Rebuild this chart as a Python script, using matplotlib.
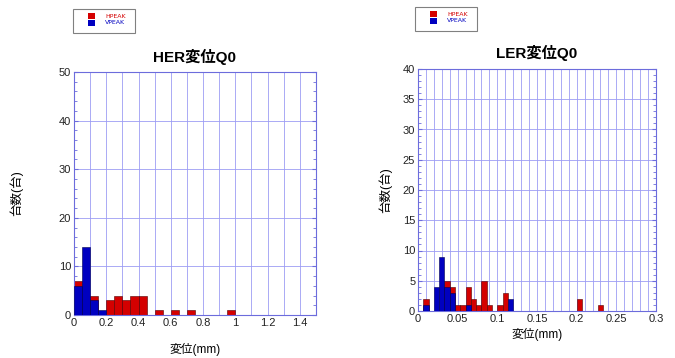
import numpy as np
import matplotlib.pyplot as plt
from matplotlib.patches import Rectangle
from matplotlib.ticker import MultipleLocator

plt.rcParams['font.family'] = ['Liberation Sans', 'Noto Sans CJK JP', 'DejaVu Sans']

# HER: 30 bins of 0.05 mm over 0-1.5
her_bin = 0.05
her_hpeak = [7, 0, 4, 0, 3, 4, 3, 4, 4, 0, 1, 0, 1, 0, 1, 0, 0, 0, 0, 1,
             0, 0, 0, 0, 0, 0, 0, 0, 0, 0]
her_vpeak = [6, 14, 3, 1, 0, 0, 0, 0, 0, 0, 0, 0, 0, 0, 0, 0, 0, 0, 0, 0,
             0, 0, 0, 0, 0, 0, 0, 0, 0, 0]

# LER: 45 bins over 0-0.3 mm
ler_bin = 0.3 / 45
ler_hpeak = [0, 2, 0, 0, 0, 5, 4, 1, 1, 4, 2, 1, 5, 1, 0, 1, 3, 0, 0, 0,
             0, 0, 0, 0, 0, 0, 0, 0, 0, 0, 2, 0, 0, 0, 1, 0, 0, 0, 0, 0,
             0, 0, 0, 0, 0]
ler_vpeak = [0, 1, 0, 4, 9, 4, 3, 0, 0, 1, 0, 0, 0, 0, 0, 0, 0, 2, 0, 0,
             0, 0, 0, 0, 0, 0, 0, 0, 0, 0, 0, 0, 0, 0, 0, 0, 0, 0, 0, 0,
             0, 0, 0, 0, 0]

labels = ['HPEAK', 'VPEAK']

RED = '#d40000'
BLUE = '#0000c0'
GRID = '#9c9cf4'
FRAME = '#6c6cdc'

W, H = 675, 358
fig = plt.figure(figsize=(W / 100, H / 100), dpi=100)


def draw_hist(ax, width, hpeak, vpeak, xmax, ymax, xmaj, xgrid, ymaj, ymin):
    left = np.arange(len(hpeak)) * width
    ax.bar(left, hpeak, width=width, align='edge', color=RED,
           edgecolor='#500000', linewidth=0.4, zorder=2)
    ax.bar(left, vpeak, width=width, align='edge', color=BLUE,
           edgecolor='#000050', linewidth=0.4, zorder=3)
    ax.set_xlim(0, xmax)
    ax.set_ylim(0, ymax)
    ax.xaxis.set_major_locator(MultipleLocator(xmaj))
    ax.xaxis.set_minor_locator(MultipleLocator(xgrid))
    ax.yaxis.set_major_locator(MultipleLocator(ymaj))
    ax.yaxis.set_minor_locator(MultipleLocator(ymin))
    ax.xaxis.grid(True, which='both', color=GRID, lw=0.6)
    ax.yaxis.grid(True, which='major', color=GRID, lw=0.6)
    ax.set_axisbelow(True)
    ax.tick_params(which='both', direction='in', color=FRAME,
                   right=True, top=False, labelsize=8, pad=2,
                   labelcolor='#222222')
    ax.tick_params(which='major', length=3)
    ax.tick_params(which='minor', length=2)
    ax.tick_params(axis='x', which='both', length=0)
    ax.xaxis.set_major_formatter(plt.FuncFormatter(lambda v, p: f'{v:g}'))
    for s in ax.spines.values():
        s.set_color(FRAME)
        s.set_linewidth(0.8)


def add_legend(x0, y0):
    # small framed key, positions in figure pixels from top-left
    fig.patches.append(Rectangle((x0 / W, 1 - (y0 + 24) / H), 62 / W, 24 / H,
                                 transform=fig.transFigure, facecolor='white',
                                 edgecolor='#808080', lw=0.8))
    for i, (lab, col) in enumerate(zip(labels, [RED, BLUE])):
        ty = y0 + 7 + i * 7
        fig.patches.append(Rectangle(((x0 + 15) / W, 1 - (ty + 3) / H),
                                     7 / W, 6 / H, transform=fig.transFigure,
                                     facecolor=col, edgecolor='none'))
        fig.text((x0 + 32) / W, 1 - ty / H, lab, color=col, fontsize=4.5,
                 va='center', ha='left', family='DejaVu Sans')


# left: HER
ax1 = fig.add_axes([74 / W, 1 - 315 / H, 242 / W, 243 / H])
draw_hist(ax1, her_bin, her_hpeak, her_vpeak, 1.5, 50, 0.2, 0.1, 10, 2)
ax1.set_title('HER変位Q0', fontsize=11, fontweight='bold', pad=7)
ax1.set_xlabel('変位(mm)', fontsize=8.5, labelpad=11)
ax1.set_ylabel('台数(台)', fontsize=9, labelpad=26)
add_legend(73, 9)

# right: LER
ax2 = fig.add_axes([418 / W, 1 - 311 / H, 238 / W, 242 / H])
draw_hist(ax2, ler_bin, ler_hpeak, ler_vpeak, 0.3, 40, 0.05, 0.01, 5, 1)
ax2.set_title('LER変位Q0', fontsize=11, fontweight='bold', pad=8)
ax2.set_xlabel('変位(mm)', fontsize=8.5, labelpad=3)
ax2.set_ylabel('台数(台)', fontsize=9, labelpad=8)
add_legend(415, 7)

fig.savefig('out.png', dpi=100)
